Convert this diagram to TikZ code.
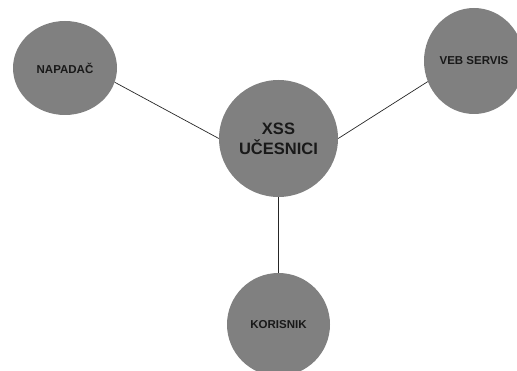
\documentclass[tikz,border=0pt]{standalone}
\usepackage{fontspec}
\setmainfont{Liberation Sans}
\usetikzlibrary{shapes.geometric}

\begin{document}
\begin{tikzpicture}[x=1pt,y=1pt]
  \tikzset{actor/.style={ellipse,fill=black!50,draw=none,inner sep=0pt,text=black!90,font=\bfseries\fontsize{11.5}{13}\selectfont}}
  \tikzset{hub/.style={actor,align=center,font=\bfseries\fontsize{16.5}{20}\selectfont}}
  \tikzset{link/.style={draw=black!85,line width=0.7pt}}
  \useasboundingbox (0,0) rectangle (517,370);
  \node[actor,minimum width=104,minimum height=94] (napadac) at (65,302) {NAPADAČ};
  \node[actor,minimum width=100,minimum height=106] (vebservis) at (474,309) {VEB SERVIS};
  \node[hub,minimum width=119,minimum height=117] (ucesnici) at (278.5,231.5) {XSS\\UČESNICI};
  \node[actor,minimum width=103,minimum height=103] (korisnik) at (278.5,45.5) {KORISNIK};
  \draw[link] (napadac.-16) -- (ucesnici.west);
  \draw[link] (ucesnici.east) -- (vebservis.-156);
  \draw[link] (ucesnici.south) -- (korisnik.north);
\end{tikzpicture}
\end{document}
